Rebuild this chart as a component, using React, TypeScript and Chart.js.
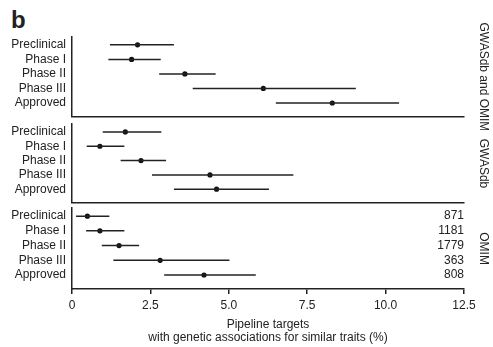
import React, { useEffect, useRef } from 'react';
import { Chart, registerables } from 'chart.js';

Chart.register(...registerables);

const phases = ['Preclinical', 'Phase I', 'Phase II', 'Phase III', 'Approved'];
const panelTitles = ['GWASdb and OMIM', 'GWASdb', 'OMIM'];
const xTicks = [0, 2.5, 5, 7.5, 10, 12.5];
const xTitle = ['Pipeline targets', 'with genetic associations for similar traits (%)'];

// GWASdb and OMIM
const bothEst = [2.09, 1.9, 3.6, 6.1, 8.3];
const bothLow = [1.21, 1.16, 2.78, 3.85, 6.5];
const bothHigh = [3.25, 2.83, 4.58, 9.05, 10.43];

// GWASdb
const gwasEst = [1.7, 0.89, 2.2, 4.4, 4.61];
const gwasLow = [0.98, 0.47, 1.55, 2.55, 3.25];
const gwasHigh = [2.85, 1.67, 3.0, 7.06, 6.28];

// OMIM
const omimEst = [0.49, 0.89, 1.5, 2.81, 4.21];
const omimLow = [0.13, 0.45, 0.95, 1.32, 2.94];
const omimHigh = [1.19, 1.67, 2.14, 5.02, 5.86];
const omimCounts = ['871', '1181', '1779', '363', '808'];

const FONT = "'Liberation Sans', Arial, Helvetica, sans-serif";
const INK = '#222222';
const Y_MIN = -0.54;
const Y_MAX = 4.95;

type PanelProps = {
  est: number[];
  low: number[];
  high: number[];
  title: string;
  counts?: string[];
  bottom: boolean;
  top: number;
  height: number;
  padTop: number;
};

function Panel({ est, low, high, title, counts, bottom, top, height, padTop }: PanelProps) {
  const ref = useRef<HTMLCanvasElement>(null);
  useEffect(() => {
    if (!ref.current) return;
    const rowTicks = (s: any) => {
      s.ticks = phases.map((_, i) => ({ value: i }));
    };
    const datasets: any[] = [
      ...phases.map((p, i) => ({
        label: p + ' interval',
        data: [
          { x: low[i], y: i },
          { x: high[i], y: i },
        ],
        showLine: true,
        borderColor: INK,
        borderWidth: 1.5,
        pointRadius: 0,
        xAxisID: 'x',
        yAxisID: 'y',
      })),
      {
        label: 'estimate',
        data: est.map((v, i) => ({ x: v, y: i })),
        pointRadius: 2.6,
        backgroundColor: '#111111',
        borderWidth: 0,
        showLine: false,
        xAxisID: 'x',
        yAxisID: 'y',
      },
    ];
    const chart = new Chart(ref.current, {
      type: 'scatter',
      data: { datasets },
      options: {
        animation: false,
        responsive: false,
        maintainAspectRatio: false,
        devicePixelRatio: 1,
        layout: { padding: { top: padTop, bottom: bottom ? 0 : 12, left: 0, right: 0 } },
        plugins: { legend: { display: false }, tooltip: { enabled: false } },
        scales: {
          x: {
            type: 'linear',
            min: 0,
            max: 12.5,
            afterBuildTicks: (s: any) => {
              s.ticks = xTicks.map((v) => ({ value: v }));
            },
            afterFit: (s: any) => {
              s.height = bottom ? 58 : 0;
            },
            grid: {
              display: bottom,
              drawOnChartArea: false,
              drawTicks: bottom,
              tickLength: 5,
              color: INK,
              tickColor: INK,
              lineWidth: 1.5,
            },
            border: { display: true, color: INK, width: 1.5 },
            ticks: {
              display: bottom,
              padding: 4,
              color: INK,
              maxRotation: 0,
              font: { family: FONT, size: 12 },
              callback: (v: any) => (Number(v) === 0 ? '0' : Number(v).toFixed(1)),
            },
            title: {
              display: bottom,
              text: xTitle,
              color: INK,
              font: { family: FONT, size: 12, lineHeight: 1.1 },
              padding: { top: 0, bottom: 3 },
            },
          },
          y: {
            type: 'linear',
            position: 'left',
            reverse: true,
            min: Y_MIN,
            max: Y_MAX,
            afterBuildTicks: rowTicks,
            afterFit: (s: any) => {
              s.width = 72;
            },
            grid: { display: false, drawTicks: false },
            border: { display: true, color: INK, width: 1.5 },
            ticks: {
              padding: 6,
              color: INK,
              font: { family: FONT, size: 12 },
              callback: (v: any) => phases[Number(v)] ?? '',
            },
          },
          y2: {
            type: 'linear',
            position: 'right',
            reverse: true,
            min: Y_MIN,
            max: Y_MAX,
            afterBuildTicks: rowTicks,
            afterFit: (s: any) => {
              s.width = 29;
            },
            grid: { display: false, drawTicks: false },
            border: { display: false },
            ticks: {
              display: !!counts,
              mirror: true,
              padding: 0,
              color: INK,
              font: { family: FONT, size: 12 },
              callback: (v: any) => (counts ? counts[Number(v)] ?? '' : ''),
            },
            title: {
              display: true,
              text: title,
              color: INK,
              font: { family: FONT, size: 12 },
              padding: { top: 2, bottom: 0 },
            },
          },
        },
      } as any,
    });
    return () => chart.destroy();
  }, []);
  return (
    <canvas
      ref={ref}
      width={493}
      height={height}
      style={{ position: 'absolute', left: 0, top, width: 493, height }}
    />
  );
}

export default function App() {
  return (
    <div
      style={{
        position: 'absolute',
        left: 0,
        top: 0,
        width: 493,
        height: 347,
        background: '#ffffff',
        overflow: 'hidden',
      }}
    >
      <div
        style={{
          position: 'absolute',
          left: 11,
          top: 8,
          fontFamily: FONT,
          fontWeight: 'bold',
          fontSize: 24,
          lineHeight: '24px',
          color: INK,
        }}
      >
        b
      </div>
      <Panel est={bothEst} low={bothLow} high={bothHigh} title={panelTitles[0]} bottom={false} top={13} padTop={24} height={117} />
      <Panel est={gwasEst} low={gwasLow} high={gwasHigh} title={panelTitles[1]} bottom={false} top={111} padTop={12} height={105} />
      <Panel
        est={omimEst}
        low={omimLow}
        high={omimHigh}
        title={panelTitles[2]}
        counts={omimCounts}
        bottom={true}
        top={195}
        padTop={12}
        height={152}
      />
    </div>
  );
}
